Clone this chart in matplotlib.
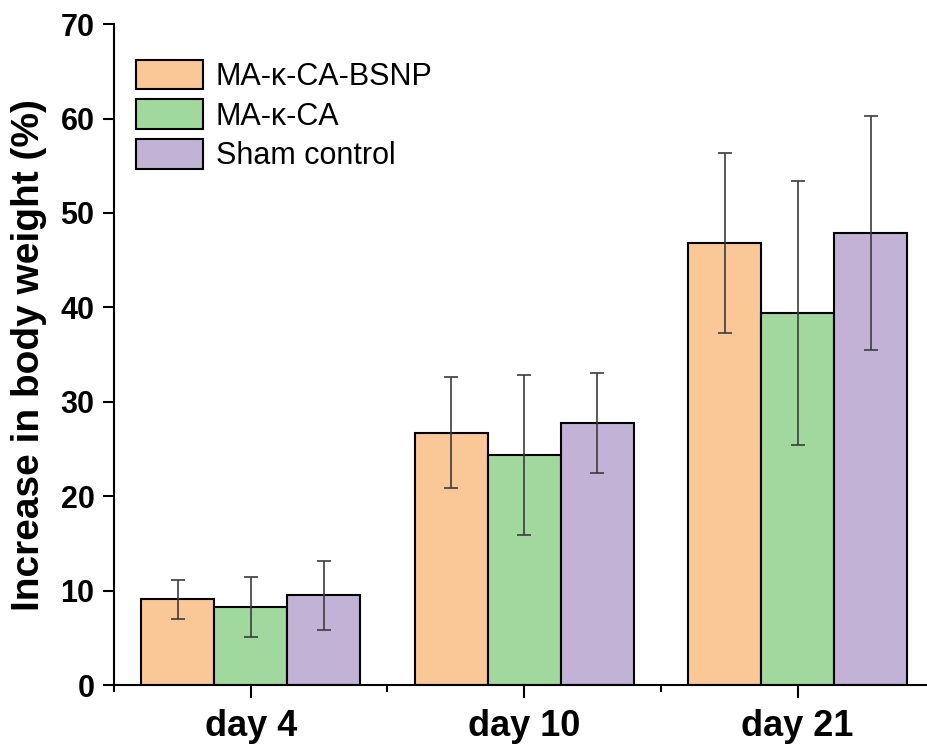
import matplotlib
matplotlib.use('Agg')
import matplotlib.pyplot as plt
import numpy as np
from matplotlib.ticker import FixedLocator

## Data
days = ['day 4', 'day 10', 'day 21']
groups = ['MA-\u03ba-CA-BSNP', 'MA-\u03ba-CA', 'Sham control']
bsnp = [9.1, 26.75, 46.8]
bsnp_err = [2.05, 5.85, 9.5]
maca = [8.27, 24.4, 39.4]
maca_err = [3.17, 8.45, 13.95]
sham = [9.54, 27.78, 47.9]
sham_err = [3.67, 5.25, 12.4]

colors = ['#FAC797', '#A0D89E', '#C2B2D6']

plt.rcParams['font.family'] = ['Liberation Sans', 'DejaVu Sans']

fig = plt.figure(figsize=(9.27, 7.48), dpi=100)
ax = fig.add_axes([0.123, 0.0836, 0.885, 0.8843])

x = np.arange(1, len(days) + 1)
w = 0.267
series = [(bsnp, bsnp_err), (maca, maca_err), (sham, sham_err)]
for i, (vals, errs) in enumerate(series):
    pos = x + (i - 1) * w
    ax.bar(pos, vals, width=w, color=colors[i], edgecolor='black',
           linewidth=1.5, label=groups[i], zorder=2)
    ax.errorbar(pos, vals, yerr=errs, fmt='none', ecolor='#3c3c3c',
                elinewidth=1.2, capsize=5, capthick=1.2, zorder=3)

## Axes styling
ax.set_xlim(0.5, 3.5)
ax.set_ylim(0, 70)
ax.set_xticks(x)
ax.set_xticklabels(days, fontsize=26, fontweight='bold')
ax.xaxis.set_minor_locator(FixedLocator([0.5, 1.5, 2.5, 3.5]))
ax.set_yticks(np.arange(0, 71, 10))
ax.tick_params(axis='y', labelsize=22, width=1.5, length=8, pad=6)
for lab in ax.get_yticklabels():
    lab.set_fontweight('bold')
ax.tick_params(axis='x', which='major', width=1.5, length=9, pad=8)
ax.tick_params(axis='x', which='minor', width=1.5, length=5)
ax.spines['top'].set_visible(False)
ax.spines['right'].set_visible(False)
ax.spines['left'].set_linewidth(1.5)
ax.spines['bottom'].set_linewidth(1.5)
ax.set_ylabel('Increase in body weight (%)', fontsize=28, fontweight='bold',
              labelpad=10)

ax.legend(loc='upper left', bbox_to_anchor=(0.027, 0.946), frameon=False,
          fontsize=22, handlelength=2.2, handleheight=1.12, handletextpad=0.4,
          labelspacing=0.24, borderpad=0, borderaxespad=0)

fig.savefig('out.png', dpi=100)
